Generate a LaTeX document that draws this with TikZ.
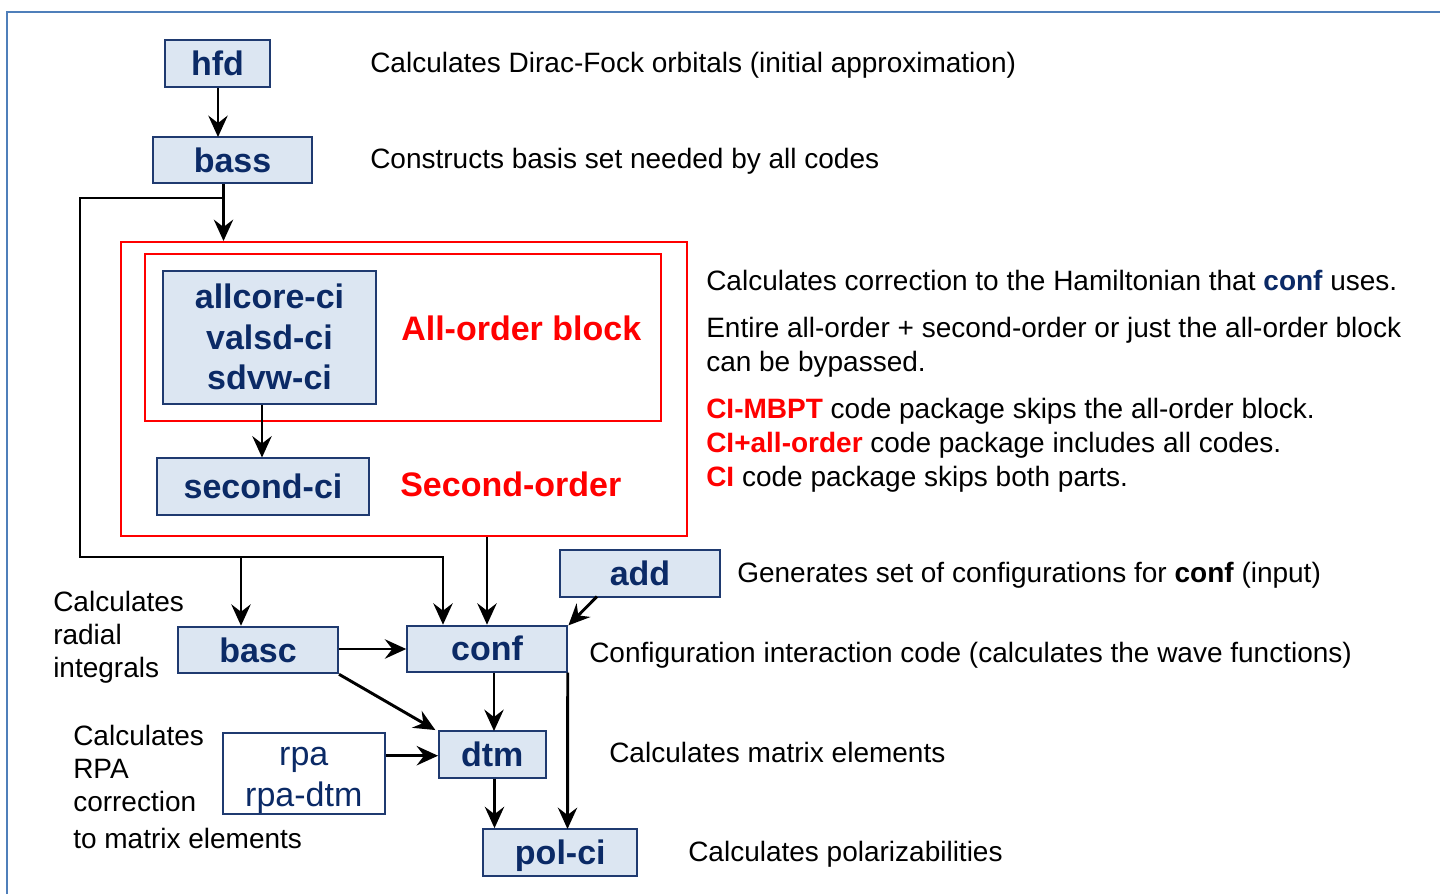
\documentclass[tikz,border=0pt]{standalone}
\usepackage{fontspec}
\setmainfont{Liberation Sans}
\usetikzlibrary{arrows.meta}
\definecolor{navy}{HTML}{0B2A66}
\definecolor{boxborder}{HTML}{1F3A70}
\definecolor{boxfill}{HTML}{DCE6F2}
\definecolor{framecol}{HTML}{4F7FBA}
\definecolor{redc}{HTML}{FF0000}
\begin{document}
\begin{tikzpicture}[x=0.75pt,y=-0.75pt,
  wh/.style 2 args={minimum width=#1*0.75pt, minimum height=#2*0.75pt},
  codebox/.style={draw=boxborder, line width=1.5pt, fill=boxfill, inner sep=0pt,
     text=navy, font=\fontsize{25.5pt}{30.5pt}\selectfont\bfseries,
     text height=18pt, text depth=0pt},
  plainbox/.style={draw=boxborder, line width=1.5pt, fill=white, inner sep=0pt},
  redframe/.style={draw=redc, line width=1.5pt, inner sep=0pt},
  boxtext/.style={anchor=base, inner sep=0pt, text=navy, font=\fontsize{25.5pt}{30.5pt}\selectfont\bfseries},
  rpatext/.style={anchor=base, inner sep=0pt, text=navy, font=\fontsize{25.5pt}{30.5pt}\selectfont},
  redlabel/.style={anchor=base west, inner sep=0pt, text=redc, font=\fontsize{25.5pt}{30.5pt}\selectfont\bfseries},
  desc/.style={anchor=base west, inner sep=0pt, text=black, font=\fontsize{21pt}{25pt}\selectfont},
  conn/.style={draw=black, line width=2.2pt},
  arr/.style={conn, -{Stealth[length=16pt, width=14.5pt, inset=5.5pt]}}
]
\useasboundingbox (0,0) rectangle (1440,894);
% outer frame
\coordinate (ftl) at (7,12);
\coordinate (ftr) at (1440,12);
\coordinate (fbl) at (7,894);
\draw[framecol, line width=1.5pt] (fbl) -- (ftl) -- (ftr);

% red frames
\node[redframe, wh={566}{294}] (outer) at (404,389) {};
\node[redframe, wh={516}{167}] (inner) at (403,337.5) {};

% code boxes
\node[codebox, wh={105}{47}] (hfd) at (217.5,63.5) {hfd};
\node[codebox, wh={159}{46}] (bass) at (232.5,160) {bass};
\node[codebox, wh={213}{133}, text height=0pt] (allcore) at (269.5,337.5) {};
\node[boxtext] (ac1) at (269.5,308.5) {allcore-ci};
\node[boxtext] (ac2) at (269.5,349) {valsd-ci};
\node[boxtext] (ac3) at (269.5,389.5) {sdvw-ci};
\node[codebox, wh={212}{57}] (second) at (263,486.5) {second-ci};
\node[codebox, wh={160}{46.5}] (add) at (640,573.3) {add};
\node[codebox, wh={159.5}{46}] (conf) at (487,648.7) {conf};
\node[codebox, wh={160}{46.5}] (basc) at (258,650) {basc};
\node[codebox, wh={106.5}{46.5}] (dtm) at (492.3,754.3) {dtm};
\node[plainbox, wh={162}{81}] (rpa) at (303.8,773.3) {};
\node[rpatext] (rpa1) at (303.8,765) {rpa};
\node[rpatext] (rpa2) at (303.8,806) {rpa-dtm};
\node[codebox, wh={154}{46.5}] (polci) at (560.3,852.4) {pol-ci};

% red labels
\node[redlabel] (allorderlbl) at (401,340) {All-order block};
\node[redlabel] (secondlbl) at (400,496.5) {Second-order};

% connectors
\coordinate (bsplit) at (223.5,198);
\coordinate (lcorner) at (80,198);
\coordinate (bcorner) at (80,557);
\coordinate (jbasc) at (241,557);
\coordinate (cconf) at (443,557);
\coordinate (addout) at (597,596.5);

\draw[arr] (hfd.south -| 218,0) -- (218,137);
\draw[arr] (bass.south -| bsplit) -- (bsplit |- outer.north);
\draw[conn, line join=miter] (bsplit) -- (lcorner) -- (bcorner) -- (cconf) -- ([yshift=-1pt]cconf);
\draw[arr] (cconf) -- (cconf |- conf.north);
\draw[arr] (jbasc) -- (jbasc |- basc.north);
\draw[arr] (allcore.south -| 262,0) -- (262,457.5);
\draw[arr] (conf.north |- outer.south) -- (conf.north);
\draw[arr] (addout) -- ([xshift=0.5pt,yshift=-0.5pt]conf.north east);
\draw[arr] (basc.east |- 0,649) -- (conf.west |- 0,649);
\draw[arr] (basc.south east) -- ([xshift=-2pt]dtm.north west);
\draw[arr] (conf.south -| 494,0) -- (494,731);
\draw[arr] (conf.south east) -- (567.5,829);
\draw[arr] (rpa.east |- 0,755.7) -- (dtm.west |- 0,755.7);
\draw[arr] (dtm.south -| 494.5,0) -- (polci.north -| 494.5,0);

% descriptions
\node[desc] (d1) at (370,72) {Calculates Dirac-Fock orbitals (initial approximation)};
\node[desc] (d2) at (370,168) {Constructs basis set needed by all codes};
\node[desc] (d3) at (706,290) {Calculates correction to the Hamiltonian that {\bfseries\color{navy}conf} uses.};
\node[desc] (d4) at (706,337.5) {Entire all-order + second-order or just the all-order block};
\node[desc] (d5) at (706,371) {can be bypassed.};
\node[desc] (d6) at (706,418.5) {{\bfseries\color{redc}CI-MBPT} code package skips the all-order block.};
\node[desc] (d7) at (706,452.5) {{\bfseries\color{redc}CI+all-order} code package includes all codes.};
\node[desc] (d8) at (706,486) {{\bfseries\color{redc}CI} code package skips both parts.};
\node[desc] (d9) at (737,582) {Generates set of configurations for {\bfseries conf} (input)};
\node[desc] (d10) at (589,662) {Configuration interaction code (calculates the wave functions)};
\node[desc] (d11) at (609,762) {Calculates matrix elements};
\node[desc] (d12) at (688,861) {Calculates polarizabilities};
\node[desc] (l1) at (53,611.5) {Calculates};
\node[desc] (l2) at (53,644.5) {radial};
\node[desc] (l3) at (53,677.5) {integrals};
\node[desc] (r1) at (73,745) {Calculates};
\node[desc] (r2) at (73,778) {RPA};
\node[desc] (r3) at (73,811.5) {correction};
\node[desc] (r4) at (73,848) {to matrix elements};
\end{tikzpicture}
\end{document}
